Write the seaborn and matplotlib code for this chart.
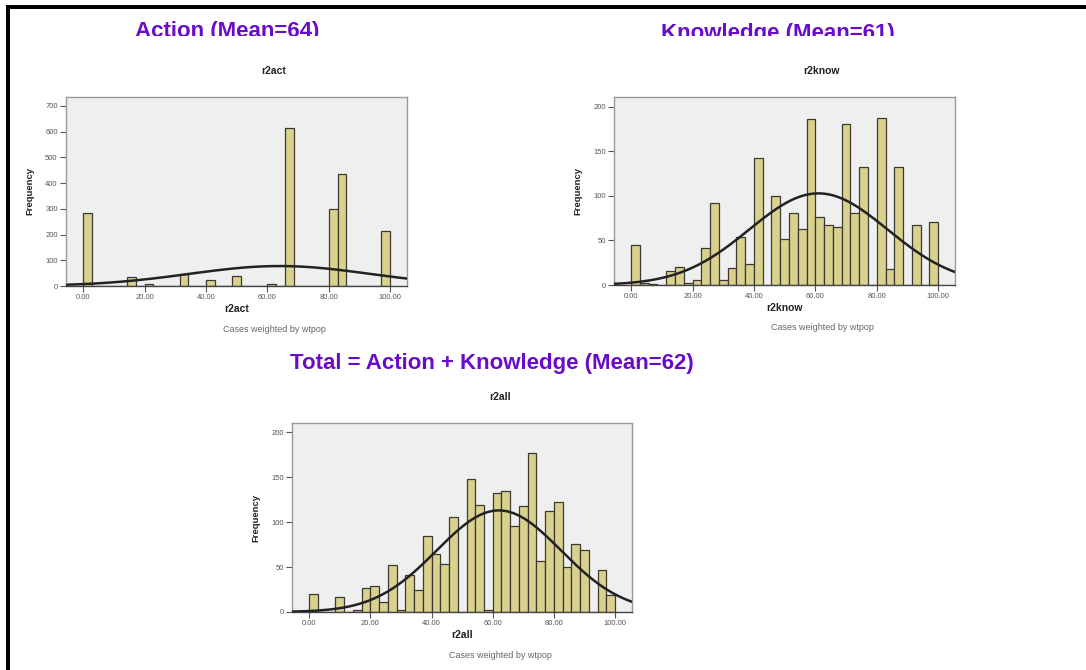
import numpy as np
import pandas as pd
import matplotlib
matplotlib.use("Agg")
import matplotlib.pyplot as plt
from matplotlib.patches import Rectangle
import seaborn as sns

# frequencies per bin (35 bins of width 100/35 from 0 to 100)
act_counts = [283, 0, 0, 0, 0, 36, 0, 8, 0, 0, 0, 45, 0, 0, 22, 0, 0, 39,
              0, 0, 0, 9, 0, 615, 0, 0, 0, 0, 300, 437, 0, 0, 0, 0, 215]
know_counts = [45, 2, 1, 0, 16, 20, 2, 6, 41, 92, 6, 19, 54, 24, 143, 0, 100, 52,
               81, 63, 186, 76, 67, 65, 181, 81, 132, 0, 187, 18, 132, 0, 67, 0, 71]
all_counts = [20, 0, 0, 17, 0, 2, 27, 29, 11, 52, 2, 41, 25, 85, 65, 53, 106, 0,
              148, 119, 2, 132, 135, 96, 118, 177, 57, 112, 123, 50, 76, 69, 0, 47, 19]

# normal curve parameters (mean, sd) as seen on the fitted curves
act_fit = (64, 29.5)
know_fit = (61, 22.5)
all_fit = (62, 20.3)

panel_titles = ["Action (Mean=64)", "Knowledge (Mean=61)", "Total = Action + Knowledge (Mean=62)"]
var_names = ["r2act", "r2know", "r2all"]
x_ticks = [0, 20, 40, 60, 80, 100]
act_yticks = [0, 100, 200, 300, 400, 500, 600, 700]
other_yticks = [0, 50, 100, 150, 200]

W, H = 1086, 670
n_bins = 35
bin_w = 100 / n_bins
mids = (np.arange(n_bins) + 0.5) * bin_w

sns.set_style("white")
plt.rcParams["font.family"] = ["Liberation Sans", "DejaVu Sans"]

fig = plt.figure(figsize=(W / 100, H / 100), dpi=100)
fig.patch.set_facecolor("white")


def px_text(x, y, s, **kw):
    return fig.text(x / W, 1 - y / H, s, **kw)


def draw_panel(left, top, right, bottom, counts, fit, name, yticks, ymax):
    ax = fig.add_axes([left / W, 1 - bottom / H, (right - left) / W, (bottom - top) / H])
    df = pd.DataFrame({"score": mids, "freq": counts})
    sns.histplot(data=df, x="score", weights="freq", bins=n_bins, binrange=(0, 100),
                 color="#DAD18E", edgecolor="#3a3a30", linewidth=0.9, alpha=1, ax=ax)
    mu, sd = fit
    xs = np.linspace(-8, 108, 300)
    ys = sum(counts) * bin_w * np.exp(-0.5 * ((xs - mu) / sd) ** 2) / (sd * np.sqrt(2 * np.pi))
    ax.plot(xs, ys, color="#222222", lw=1.8, zorder=5)
    ax.set_xlim(-5.6, 105.5)
    ax.set_ylim(0, ymax)
    ax.set_facecolor("#EFEFEF")
    for sp in ax.spines.values():
        sp.set_color("#9a9a9a")
        sp.set_linewidth(1.0)
    ax.spines["bottom"].set_color("#444444")
    ax.set_xticks(x_ticks)
    ax.set_xticklabels([f"{t:.2f}" for t in x_ticks])
    ax.set_yticks(yticks)
    ax.set_yticklabels([str(t) for t in yticks])
    ax.tick_params(axis="both", labelsize=5.5, colors="#555555", length=4, width=0.8,
                   direction="out", pad=2, bottom=True, left=True)
    ax.set_xlabel("")
    ax.set_ylabel("")
    # SPSS style texts
    px_text(left + 208, top - 26, name, ha="center", va="center", fontsize=7.5,
            fontweight="bold", color="#222222")
    px_text((left + right) / 2, bottom + 23, name, ha="center", va="center", fontsize=7.5,
            fontweight="bold", color="#222222")
    px_text(left + 208, bottom + 43, "Cases weighted by wtpop", ha="center", va="center",
            fontsize=6.5, color="#666666")
    px_text(left - 36, (top + bottom) / 2, "Frequency", ha="center", va="center",
            rotation=90, fontsize=6.8, fontweight="bold", color="#222222")
    return ax


draw_panel(66, 97, 407, 286, act_counts, act_fit, var_names[0], act_yticks, 735)
draw_panel(614, 97, 955, 285, know_counts, know_fit, var_names[1], other_yticks, 211)
draw_panel(292, 423, 632, 612, all_counts, all_fit, var_names[2], other_yticks, 210.5)

purple = "#6A0BCB"
px_text(227, 36.7, panel_titles[0], ha="center", va="baseline", fontsize=16,
        fontweight="bold", color=purple)
px_text(778, 38.7, panel_titles[1], ha="center", va="baseline", fontsize=16,
        fontweight="bold", color=purple)
px_text(492, 369.5, panel_titles[2], ha="center", va="baseline", fontsize=16,
        fontweight="bold", color=purple)

# the two top headings are cut off at the bottom in the original
fig.add_artist(Rectangle((100 / W, 1 - 52 / H), 900 / W, 16 / H, transform=fig.transFigure,
                         facecolor="white", edgecolor="none", zorder=20))

# black frame (top and left edges)
fig.add_artist(Rectangle((6 / W, 1 - 9 / H), 1 - 6 / W, 4 / H, transform=fig.transFigure,
                         facecolor="black", edgecolor="none", zorder=30))
fig.add_artist(Rectangle((6 / W, 0), 4 / W, 1 - 5 / H, transform=fig.transFigure,
                         facecolor="black", edgecolor="none", zorder=30))

fig.savefig("out.png", dpi=100, facecolor="white")
